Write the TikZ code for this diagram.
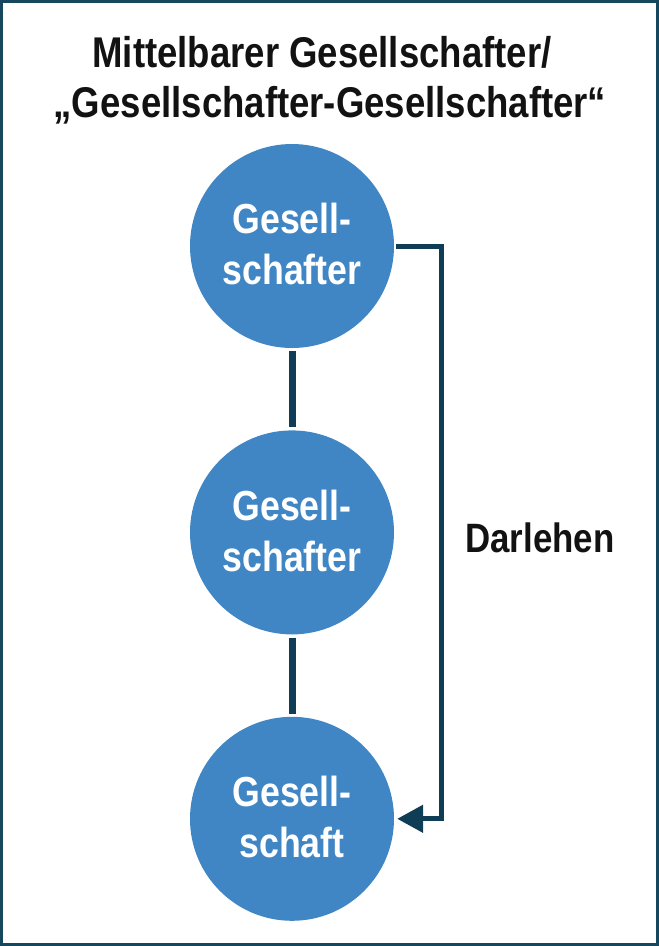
\documentclass[tikz,border=0pt]{standalone}
\usepackage{fontspec}
\setmainfont{Liberation Sans}[FakeStretch=0.85]
\usepackage{xcolor}
\usetikzlibrary{arrows.meta,positioning}
\definecolor{gsblue}{HTML}{4086C4}
\definecolor{gsdark}{HTML}{0E3D55}
\definecolor{gsframe}{HTML}{15475F}
\newcommand{\lowstrut}{\rule[-4pt]{0pt}{4pt}}

\begin{document}
\begin{tikzpicture}[x=1pt,y=-1pt,node distance=82pt,
  every node/.style={font=\bfseries},
  party/.style={circle,fill=gsblue,text=white,minimum size=204pt,inner sep=0pt,align=center,
    font=\fontsize{42}{51}\selectfont\bfseries},
  title/.style={anchor=base,font=\fontsize{43}{52}\selectfont\bfseries,text=black!93},
  link/.style={gsdark,line width=7pt,shorten <=3pt,shorten >=3pt},
  arr/.style={gsdark,line width=5pt,-{Triangle[length=26pt,width=27pt]}}]
\useasboundingbox (0,0) rectangle (659,946);
\draw[gsframe,line width=3pt] (1.5,1.5) rectangle (657.5,944.5);
\node[title] (t1) at (322,67) {Mittelbarer Gesellschafter/};
\node[title] (t2) at (330,117) {„Gesellschafter-Gesellschafter“};
\node[party] (c1) at (292,246) {Gesell-\\schafter\lowstrut};
\node[party,below=of c1] (c2) {Gesell-\\schafter\lowstrut};
\node[party,below=of c2] (c3) {Gesell-\\schaft\lowstrut};
\draw[link] (c1)--(c2);
\draw[link] (c2)--(c3);
\draw[arr] ([xshift=2pt]c1.east) -- ++(45.5,0) |- ([xshift=3pt]c3.east);
\node[title,font=\fontsize{41}{50}\selectfont\bfseries] (loan) at (540,552) {Darlehen};
\end{tikzpicture}
\end{document}
